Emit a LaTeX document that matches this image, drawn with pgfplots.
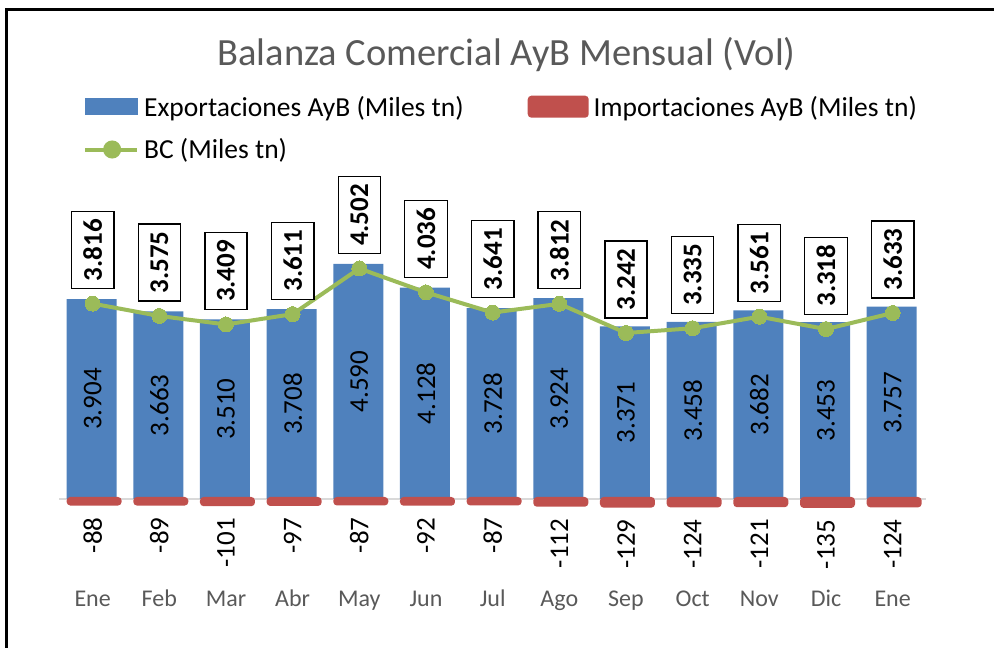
\documentclass[border=0pt]{standalone}
\usepackage{pgfplots}
\pgfplotsset{compat=1.18}
\usepackage{pgfplotstable}
\usepackage{fontspec}
\setmainfont{Carlito}
\definecolor{expblue}{HTML}{4F81BD}
\definecolor{impred}{HTML}{C0504D}
\definecolor{bcgreen}{HTML}{9BBB59}
\definecolor{txtgrey}{HTML}{595959}

\pgfplotstableread{
x exp imp bc
0 3904 -88 3816
1 3663 -89 3575
2 3510 -101 3409
3 3708 -97 3611
4 4590 -87 4502
5 4128 -92 4036
6 3728 -87 3641
7 3924 -112 3812
8 3371 -129 3242
9 3458 -124 3335
10 3682 -121 3561
11 3453 -135 3318
12 3757 -124 3633
}\data

\begin{document}
\begin{tikzpicture}
\useasboundingbox (0pt,0pt) rectangle (994pt,648pt);
\draw[line width=3pt] (6pt,-2pt) -- (6pt,638pt) -- (998pt,638pt);
\node[anchor=base, text=txtgrey, font=\fontsize{38.5}{42}\selectfont, inner sep=0pt] at (506.5pt,582pt) {Balanza Comercial AyB Mensual (Vol)};
\begin{axis}[
  at={(59.3pt,61.96pt)}, anchor=south west,
  scale only axis, width=866.7pt, height=343.04pt,
  xmin=-0.5, xmax=12.5, ymin=-1700, ymax=5000,
  axis line style={draw=none},
  ytick=\empty,
  xtick={0,...,12},
  xticklabels={Ene,Feb,Mar,Abr,May,Jun,Jul,Ago,Sep,Oct,Nov,Dic,Ene},
  major tick length=0pt,
  xticklabel style={text=txtgrey, font=\fontsize{24}{28}\selectfont, anchor=base, yshift=-20.7pt},
  extra y ticks={0}, extra y tick labels={},
  extra y tick style={grid=major, major grid style={draw=black!15, line width=1.5pt}},
  clip=false,
  /pgf/number format/.cd, fixed, precision=0, 1000 sep={.}, assume math mode=true, /pgfplots/.cd,
  legend columns=2,
  legend cell align=left,
  legend style={at={(axis description cs:0.0273,1.43)}, anchor=north west, draw=none, fill=none,
    inner sep=0pt, font=\fontsize{27.5}{30}\selectfont, text=black,
    nodes={inner xsep=5pt, inner ysep=0pt},
    row sep=21pt,
    /tikz/every even column/.append style={column sep=59pt}},
]
\addplot[ybar, bar width=50pt, bar shift=-1pt, fill=expblue, draw=none,
  legend image code/.code={\fill[expblue] (0pt,-8.5pt) rectangle (53pt,8.5pt);}]
  table[x=x,y=exp]{\data};
\addlegendentry{Exportaciones AyB (Miles tn)}
\addplot[ybar, bar width=51pt, bar shift=1.5pt, fill=impred, draw=impred, line width=4pt, rounded corners=2pt,
  legend image code/.code={\fill[impred, rounded corners=2pt] (0pt,-9pt) rectangle (57pt,9pt);}]
  table[x=x,y=imp]{\data};
\addlegendentry{Importaciones AyB (Miles tn)}
\addplot[bcgreen, line width=4pt, mark=*, mark size=7.5pt, mark options={fill=bcgreen, draw=bcgreen, line width=0pt},
  legend image code/.code={\draw[bcgreen, line width=4pt] (0pt,0pt) -- (52pt,0pt); \fill[bcgreen] (27pt,0pt) circle (7pt);}]
  table[x=x,y=bc]{\data};
\addlegendentry{BC (Miles tn)}
% export labels (centered in bars)
\addplot[draw=none, forget plot, nodes near coords, point meta=explicit,
  every node near coord/.append style={rotate=90, anchor=center, font=\fontsize{27}{30}\selectfont, text=black}]
  table[x=x, y expr=\thisrow{exp}/2, meta=exp]{\data};
% import labels
\addplot[draw=none, forget plot, nodes near coords, point meta=explicit,
  every node near coord/.append style={rotate=90, anchor=east, inner sep=0pt, outer xsep=14pt, font=\fontsize{27}{30}\selectfont, text=black}]
  table[x=x, y=imp, meta=imp]{\data};
% BC labels
\addplot[draw=none, forget plot, nodes near coords, point meta=explicit,
  every node near coord/.append style={rotate=90, anchor=west, draw=black, line width=1.2pt, fill=white,
    inner xsep=7.5pt, inner ysep=12pt, outer xsep=15pt, font=\fontsize{27}{30}\selectfont\bfseries, text=black}]
  table[x=x, y=bc, meta=bc]{\data};
\end{axis}
\end{tikzpicture}
\end{document}
